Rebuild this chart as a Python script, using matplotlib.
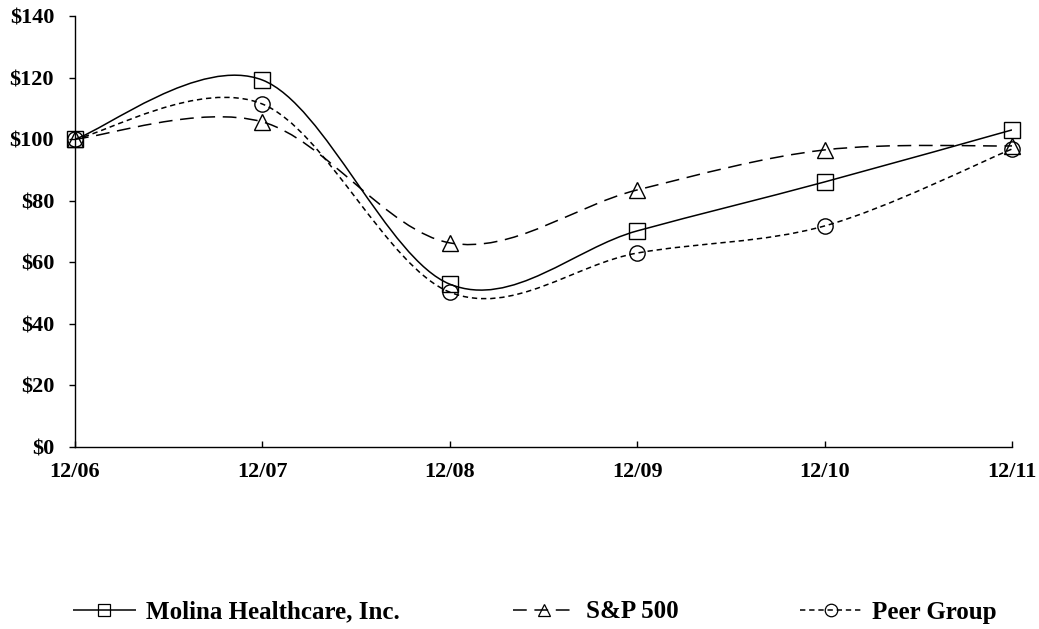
import numpy as np
import matplotlib
matplotlib.use('Agg')
from matplotlib import pyplot as plt
from matplotlib.path import Path
from matplotlib.patches import PathPatch
from matplotlib.lines import Line2D

plt.rcParams['font.family'] = ['Liberation Serif', 'DejaVu Serif']
plt.rcParams['font.weight'] = 'bold'

years = ['12/06', '12/07', '12/08', '12/09', '12/10', '12/11']
molina = [100, 119.2, 52.9, 70.2, 86.1, 103.0]
sp500 = [100, 105.6, 66.3, 83.5, 96.5, 97.8]
peer = [100, 111.4, 50.3, 63.0, 71.8, 96.8]


def smooth_path(xs, ys):
    # excel-like smoothed line: cubic bezier with catmull-rom control points
    pts = np.column_stack([xs, ys]).astype(float)
    n = len(pts)
    verts = [pts[0]]
    codes = [Path.MOVETO]
    for i in range(n - 1):
        p0 = pts[i - 1] if i > 0 else pts[i]
        p1 = pts[i]
        p2 = pts[i + 1]
        p3 = pts[i + 2] if i + 2 < n else pts[i + 1]
        c1 = p1 + (p2 - p0) / 6.0
        c2 = p2 - (p3 - p1) / 6.0
        verts += [c1, c2, p2]
        codes += [Path.CURVE4] * 3
    return Path(verts, codes)


fig = plt.figure(figsize=(10.39, 6.29), dpi=100)
ax = fig.add_axes([75 / 1039, 1 - 447 / 629, (1012 - 75) / 1039, (447 - 16) / 629])

x = np.arange(len(years))
series = [
    ('Molina Healthcare, Inc.', molina, 's', (0, ()), 12),
    ('S&P 500', sp500, '^', (0, (9, 5)), 11.5),
    ('Peer Group', peer, 'o', (0, (3.5, 2.5)), 11),
]
handles = []
for name, vals, mk, ls, ms in series:
    patch = PathPatch(smooth_path(x, vals), facecolor='none', edgecolor='black',
                      lw=1.1, linestyle=ls)
    ax.add_patch(patch)
    ax.plot(x, vals, linestyle='none', marker=mk, markersize=ms, clip_on=False,
            markerfacecolor='none', markeredgecolor='black', markeredgewidth=1.0,
            zorder=3)
    handles.append(Line2D([], [], color='black', lw=1.1, linestyle=ls, marker=mk,
                          markersize=9, markerfacecolor='none',
                          markeredgecolor='black', markeredgewidth=0.9))

ax.set_xlim(0, 5)
ax.set_ylim(0, 140)
ax.set_xticks(x)
ax.set_xticklabels(years)
ax.set_yticks(np.arange(0, 141, 20))
ax.set_yticklabels(['$%d' % v for v in np.arange(0, 141, 20)])
for s in ['top', 'right']:
    ax.spines[s].set_visible(False)
for s in ['left', 'bottom']:
    ax.spines[s].set_linewidth(1.0)
ax.tick_params(axis='y', direction='out', length=4, width=1, labelsize=16, pad=11)
ax.tick_params(axis='x', direction='in', length=4, width=1, labelsize=16, pad=11)

legend_x = [73 / 1039, 513 / 1039, 800 / 1039]
for h, (name, *_), lx in zip(handles, series, legend_x):
    fig.legend([h], [name], loc='center left', bbox_to_anchor=(lx, 1 - 612 / 629),
               frameon=False, fontsize=18, handlelength=2.5, handletextpad=0.4,
               borderaxespad=0, borderpad=0, numpoints=1)

fig.savefig('out.png', dpi=100)
